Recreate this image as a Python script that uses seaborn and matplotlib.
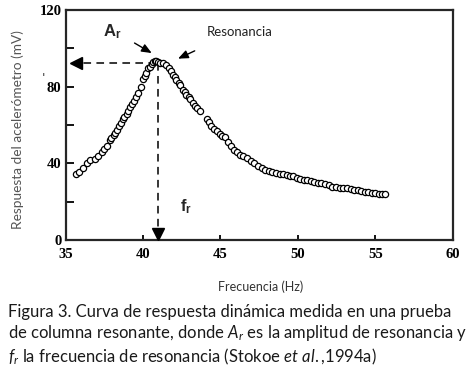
import matplotlib
matplotlib.use("Agg")
import matplotlib.pyplot as plt
import seaborn as sns
import pandas as pd

# frecuencia (Hz) y respuesta del acelerómetro (mV)
freq = [35.7, 35.9, 36.15, 36.4, 36.6, 36.9, 37.1, 37.35, 37.5, 37.65, 37.85, 37.95,
        38.1, 38.2, 38.3, 38.45, 38.55, 38.7, 38.8, 38.95, 39.05, 39.15, 39.3, 39.4,
        39.55, 39.7, 39.9, 40.0, 40.1, 40.2, 40.35, 40.45, 40.55, 40.65, 40.75, 40.85,
        40.95, 41.1, 41.3, 41.5, 41.65, 41.8, 41.95, 42.05, 42.15, 42.3, 42.4, 42.55,
        42.7, 42.8, 42.95, 43.05, 43.2, 43.35, 43.5, 43.65, 44.15, 44.25, 44.4, 44.6,
        44.8, 44.95, 45.1, 45.3, 45.5, 45.7, 45.9, 46.05, 46.25, 46.45, 46.7, 46.95,
        47.15, 47.4, 47.65, 47.9, 48.1, 48.35, 48.6, 48.85, 49.05, 49.3, 49.5, 49.7,
        49.95, 50.15, 50.4, 50.6, 50.85, 51.05, 51.3, 51.5, 51.75, 52.0, 52.2, 52.45,
        52.7, 52.9, 53.15, 53.4, 53.6, 53.85, 54.1, 54.3, 54.55, 54.75, 55.0, 55.2,
        55.4, 55.6]
resp = [34.5, 35.5, 37.5, 40, 41.5, 42.5, 44, 46, 47.5, 49, 52, 53,
        55, 56, 57.5, 59.5, 61, 63, 64, 66, 67.5, 69.5, 71, 72.5,
        74.5, 76.5, 80, 84, 85.5, 87, 89.5, 90.5, 92, 92.8, 93.2, 93.2,
        93, 92.6, 92.2, 91.3, 90, 88, 86, 85, 83.5, 82, 81, 78.5,
        77, 75.5, 74.5, 73.5, 71.5, 70, 69, 67.5, 63, 61.5, 59.5, 58,
        57, 55.5, 54.5, 53.5, 51, 49, 47, 46, 44.5, 44, 43, 41,
        40, 38.5, 37.5, 36.5, 36, 35.5, 35, 34.7, 34.3, 34, 33.5, 33.2,
        32.5, 32, 31.5, 31.2, 30.6, 30.3, 30, 29.6, 29.2, 28.5, 27.9, 27.6,
        27.3, 27.1, 26.9, 26.5, 26.3, 25.9, 25.6, 25.3, 25, 24.7, 24.3, 24.1,
        24, 24]

x_ticks = [35, 40, 45, 50, 55, 60]
y_ticks = [0, 20, 40, 60, 80, 100, 120]
y_tick_labels = ['0', '', '40', '', '80', '', '120']

f_res = 41.0
a_res = 92.3

sns.set_style("ticks")
plt.rcParams['mathtext.fontset'] = 'custom'
plt.rcParams['mathtext.rm'] = 'Lato'
plt.rcParams['mathtext.it'] = 'Lato:italic'
plt.rcParams['mathtext.bf'] = 'Liberation Sans:bold'

df = pd.DataFrame({'freq': freq, 'resp': resp})

fig = plt.figure(figsize=(4.73, 3.72), dpi=100)
ax = fig.add_axes([0.1385, 0.3548, 0.819, 0.6183])

sns.scatterplot(data=df, x='freq', y='resp', ax=ax, marker='o', s=20,
                facecolor='white', edgecolor='black', linewidth=0.9, zorder=3)

ax.set_xlim(35, 60)
ax.set_ylim(0, 120)
ax.set_xticks(x_ticks)
ax.set_yticks(y_ticks)
ax.set_yticklabels(y_tick_labels)
ax.tick_params(axis='both', direction='in', width=1.3, colors='black')
ax.tick_params(axis='y', length=6, pad=3)
ax.tick_params(axis='x', length=3.5, pad=6)
for lab in ax.get_xticklabels() + ax.get_yticklabels():
    lab.set_fontfamily('Liberation Serif')
    lab.set_fontweight('bold')
    lab.set_fontsize(10.5)
for sp in ax.spines.values():
    sp.set_visible(True)
    sp.set_linewidth(1.6)

ax.set_xlabel('')
ax.set_ylabel('')
fig.text(0.552, 0.228, 'Frecuencia (Hz)', ha='center', va='center',
         fontsize=9, family='Lato', color='#333333')
fig.text(0.038, 0.653, 'Respuesta del acelerómetro (mV)', ha='center', va='center',
         rotation=90, fontsize=9.8, family='Lato', color='#555555')

# líneas discontinuas hacia los ejes
ax.plot([40.85, 35.9], [a_res, a_res], color='black', lw=1.1, ls=(0, (5, 3.5)), zorder=2)
ax.plot([f_res, f_res], [a_res, 6], color='black', lw=1.1, ls=(0, (5, 3.5)), zorder=2)
ax.plot([35.65], [a_res], marker='<', color='black', markersize=9, zorder=4, clip_on=False)
ax.plot([f_res], [3.3], marker='v', color='black', markersize=9, zorder=4, clip_on=False)

arrow = dict(arrowstyle='-|>,head_length=0.6,head_width=0.25', color='black', lw=1.0)
ax.annotate('', xy=(40.72, 96.8), xytext=(39.3, 103.5), arrowprops=arrow)
ax.annotate('', xy=(42.1, 94.0), xytext=(43.5, 99.3), arrowprops=arrow)

ax.text(38.0, 108.5, r'$\mathbf{A}_\mathbf{r}$', ha='center', va='center', fontsize=12)
ax.text(42.8, 17.5, r'$\mathbf{f}_\mathbf{r}$', ha='center', va='center', fontsize=12)
ax.text(44.1, 108.5, 'Resonancia', ha='left', va='center', fontsize=9.5,
        family='Lato', color='#222222')

fig.text(0.091, 0.79, "'", ha='center', va='center', fontsize=9, color='#333333')

caption = ("Figura 3. Curva de respuesta dinámica medida en una prueba\n"
           "de columna resonante, donde $A_r$ es la amplitud de resonancia y\n"
           r"$f_r$ la frecuencia de resonancia (Stokoe $\mathit{et\ al.}$,1994a)")
fig.text(0.017, 0.184, caption, ha='left', va='top', fontsize=12,
         family='Lato', color='#1a1a1a', linespacing=1.22)

plt.savefig('out.png', dpi=100)
